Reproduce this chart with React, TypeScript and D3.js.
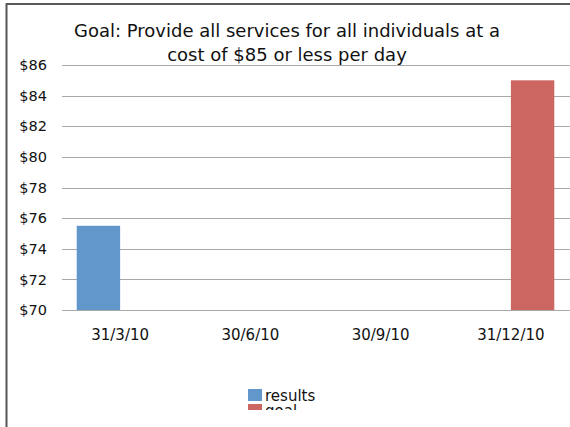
import React from "react";
import * as d3 from "d3";

const categories = ["31/3/10", "30/6/10", "30/9/10", "31/12/10"];
const seriesNames = ["results", "goal"];
const results = [75.5, null, null, null];
const goal = [null, null, null, 85];
const yTicks = [70, 72, 74, 76, 78, 80, 82, 84, 86];
const titleLines = [
  "Goal: Provide all services for all individuals at a",
  "cost of $85 or less per day",
];

const W = 570;
const H = 427;
const colors: Record<string, string> = { results: "#6197cb", goal: "#cc6660" };
const font = "'DejaVu Sans', Verdana, sans-serif";

export default function App() {
  const y = d3.scaleLinear().domain([70, 86]).range([310, 65]);
  const x0 = d3.scaleBand<string>().domain(categories).range([55, 576]);
  const x1 = d3
    .scaleBand<string>()
    .domain(seriesNames)
    .range([0, x0.bandwidth()])
    .paddingOuter(0.5)
    .paddingInner(0);

  const values: Record<string, (number | null)[]> = { results, goal };
  const gridLeft = 62;

  return (
    <svg
      width={W}
      height={H}
      style={{ position: "absolute", left: 0, top: 0, background: "#fff" }}
      fontFamily={font}
    >
      <defs>
        <clipPath id="legclip">
          <rect x={0} y={0} width={W} height={410} />
        </clipPath>
      </defs>
      <rect x={0} y={0} width={W} height={H} fill="#fff" />
      {/* frame */}
      <line x1={6} x2={W} y1={4} y2={4} stroke="#222" strokeWidth={1.5} />
      <line x1={6.5} x2={6.5} y1={3.5} y2={H} stroke="#555" strokeWidth={2} />

      {/* grid + y ticks */}
      {yTicks.map((t) => (
        <g key={t}>
          <line
            x1={gridLeft}
            x2={W}
            y1={Math.round(y(t)) + 0.5}
            y2={Math.round(y(t)) + 0.5}
            stroke="#a8a8a8"
            strokeWidth={1.2}
          />
          <text
            x={47}
            y={y(t)}
            dy="0.36em"
            textAnchor="end"
            fontSize={14.5}
            fill="#111"
          >
            {"$" + t}
          </text>
        </g>
      ))}

      {/* bars */}
      {categories.map((c, i) => (
        <g key={c} transform={`translate(${x0(c)},0)`}>
          {seriesNames.map((s) => {
            const v = values[s][i];
            if (v == null) return null;
            return (
              <rect
                key={s}
                x={x1(s)}
                y={y(v)}
                width={x1.bandwidth()}
                height={y(70) - y(v)}
                fill={colors[s]}
              />
            );
          })}
        </g>
      ))}

      {/* x labels */}
      {categories.map((c) => (
        <text
          key={c}
          x={(x0(c) || 0) + x0.bandwidth() / 2}
          y={340}
          textAnchor="middle"
          fontSize={15}
          fill="#111"
        >
          {c}
        </text>
      ))}

      {/* title */}
      {titleLines.map((l, i) => (
        <text
          key={i}
          x={287}
          y={37 + i * 24}
          textAnchor="middle"
          fontSize={18}
          fill="#111"
        >
          {l}
        </text>
      ))}

      {/* legend */}
      <g clipPath="url(#legclip)">
        {seriesNames.map((s, i) => (
          <g key={s} transform={`translate(248,${389 + i * 15})`}>
            <rect x={0} y={0} width={14} height={12} fill={colors[s]} />
            <text x={17} y={12} fontSize={15} fill="#111">
              {s}
            </text>
          </g>
        ))}
      </g>
    </svg>
  );
}
